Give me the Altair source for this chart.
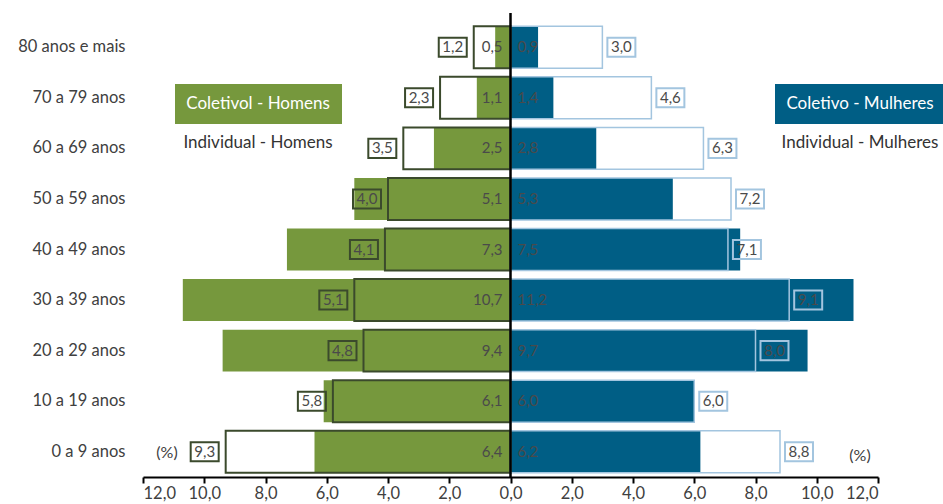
import altair as alt
import pandas as pd

ages = ["80 anos e mais", "70 a 79 anos", "60 a 69 anos", "50 a 59 anos",
        "40 a 49 anos", "30 a 39 anos", "20 a 29 anos", "10 a 19 anos", "0 a 9 anos"]
coletivo_homens = [0.5, 1.1, 2.5, 5.1, 7.3, 10.7, 9.4, 6.1, 6.4]
individual_homens = [1.2, 2.3, 3.5, 4.0, 4.1, 5.1, 4.8, 5.8, 9.3]
coletivo_mulheres = [0.9, 1.4, 2.8, 5.3, 7.5, 11.2, 9.7, 6.0, 6.2]
individual_mulheres = [3.0, 4.6, 6.3, 7.2, 7.1, 9.1, 8.0, 6.0, 8.8]
x_ticks = [-12, -10, -8, -6, -4, -2, 0, 2, 4, 6, 8, 10, 12]

GREEN = "#76983d"
BLUE = "#005e85"
DKGREEN = "#3b4a2c"
LTBLUE = "#a3c5df"
TXT = "#4a4a4a"
FONT = "Lato"


def fmt(v):
    return f"{v:.1f}".replace(".", ",")


df = pd.DataFrame({
    "age": ages,
    "ch": [-v for v in coletivo_homens],
    "ih": [-v for v in individual_homens],
    "cm": coletivo_mulheres,
    "im": individual_mulheres,
    "ch_l": [fmt(v) for v in coletivo_homens],
    "ih_l": [fmt(v) for v in individual_homens],
    "cm_l": [fmt(v) for v in coletivo_mulheres],
    "im_l": [fmt(v) for v in individual_mulheres],
})

xscale = alt.Scale(domain=[-12, 12], nice=False, zero=False)
xaxis = alt.Axis(
    values=x_ticks, grid=False, title=None,
    labelExpr="replace(format(abs(datum.value), '.1f'), '.', ',')",
    domainColor="black", domainWidth=2, tickColor="black", tickWidth=2, tickSize=6,
    labelFontSize=16.5, labelColor="#404040", labelFont=FONT, labelPadding=2,
)


def X(field):
    return alt.X(field, type="quantitative", scale=xscale, axis=xaxis, title=None)


Y = alt.Y("age:N", sort=ages, title=None,
          scale=alt.Scale(paddingInner=0.17, paddingOuter=0.085),
          axis=alt.Axis(domain=False, ticks=False, labelPadding=18, labelFontSize=16.5,
                        labelColor="#404040", labelFont=FONT))

base = alt.Chart(df).encode(y=Y)

col_h = base.mark_bar(color=GREEN).encode(x=X("ch"), x2=alt.datum(0))
col_m = base.mark_bar(color=BLUE).encode(x=X("cm"), x2=alt.datum(0))
ind_h = base.mark_bar(fillOpacity=0, stroke=DKGREEN, strokeWidth=2).encode(x=X("ih"), x2=alt.datum(0))
ind_m = base.mark_bar(fillOpacity=0, stroke=LTBLUE, strokeWidth=1.5).encode(x=X("im"), x2=alt.datum(0))

one = pd.DataFrame({"a": [0]})
zero_rule = alt.Chart(one).mark_rule(color="black", strokeWidth=2.5).encode(
    x=alt.datum(0), y=alt.value(-9), y2=alt.value(455))

t_ch = base.mark_text(align="right", dx=-8, fontSize=15, color=TXT, font=FONT).encode(
    x=alt.datum(0), text="ch_l:N")
t_cm = base.mark_text(align="left", dx=7, fontSize=15, color=TXT, font=FONT).encode(
    x=alt.datum(0), text="cm_l:N")

box_shape = "M-1,-0.68H1V0.68H-1Z"
b_ih = base.mark_point(shape=box_shape, size=784, filled=False, stroke=DKGREEN,
                       strokeWidth=2, xOffset=-21, opacity=1).encode(x=X("ih"))
b_im = base.mark_point(shape=box_shape, size=784, filled=False, stroke=LTBLUE,
                       strokeWidth=2, xOffset=19, opacity=1).encode(x=X("im"))
t_ih = base.mark_text(align="center", dx=-21, fontSize=15, color=TXT, font=FONT).encode(
    x=X("ih"), text="ih_l:N")
t_im = base.mark_text(align="center", dx=19, fontSize=15, color=TXT, font=FONT).encode(
    x=X("im"), text="im_l:N")

leg_h_rect = alt.Chart(one).mark_rect(color=GREEN).encode(
    x=alt.value(32), x2=alt.value(199), y=alt.value(62), y2=alt.value(102))
leg_h_t1 = alt.Chart(one).mark_text(text="Coletivol - Homens", color="white", fontSize=17,
                                    font=FONT, align="center").encode(
    x=alt.value(115), y=alt.value(82))
leg_h_t2 = alt.Chart(one).mark_text(text="Individual - Homens", color="#333333", fontSize=17,
                                    font=FONT, align="center").encode(
    x=alt.value(115), y=alt.value(121))
leg_m_rect = alt.Chart(one).mark_rect(color=BLUE).encode(
    x=alt.value(632), x2=alt.value(800), y=alt.value(62), y2=alt.value(102))
leg_m_t1 = alt.Chart(one).mark_text(text="Coletivo - Mulheres", color="white", fontSize=17,
                                    font=FONT, align="center").encode(
    x=alt.value(717), y=alt.value(82))
leg_m_t2 = alt.Chart(one).mark_text(text="Individual - Mulheres", color="#333333", fontSize=17,
                                    font=FONT, align="center").encode(
    x=alt.value(717), y=alt.value(121))
pct_l = alt.Chart(one).mark_text(text="(%)", color="#404040", fontSize=16, font=FONT).encode(
    x=alt.value(24), y=alt.value(431))
pct_r = alt.Chart(one).mark_text(text="(%)", color="#404040", fontSize=16, font=FONT).encode(
    x=alt.value(717), y=alt.value(434))

chart = alt.layer(
    col_h, col_m, ind_h, ind_m, zero_rule, t_ch, t_cm, b_ih, b_im, t_ih, t_im,
    leg_h_rect, leg_h_t1, leg_h_t2, leg_m_rect, leg_m_t1, leg_m_t2, pct_l, pct_r,
).properties(
    width=735, height=455,
    autosize=alt.AutoSizeParams(type="none"),
    padding={"left": 143, "top": 22, "right": 65, "bottom": 27},
    background="white",
).configure_view(stroke=None)

chart.save("out.html", embed_options={"renderer": "svg", "actions": False})
